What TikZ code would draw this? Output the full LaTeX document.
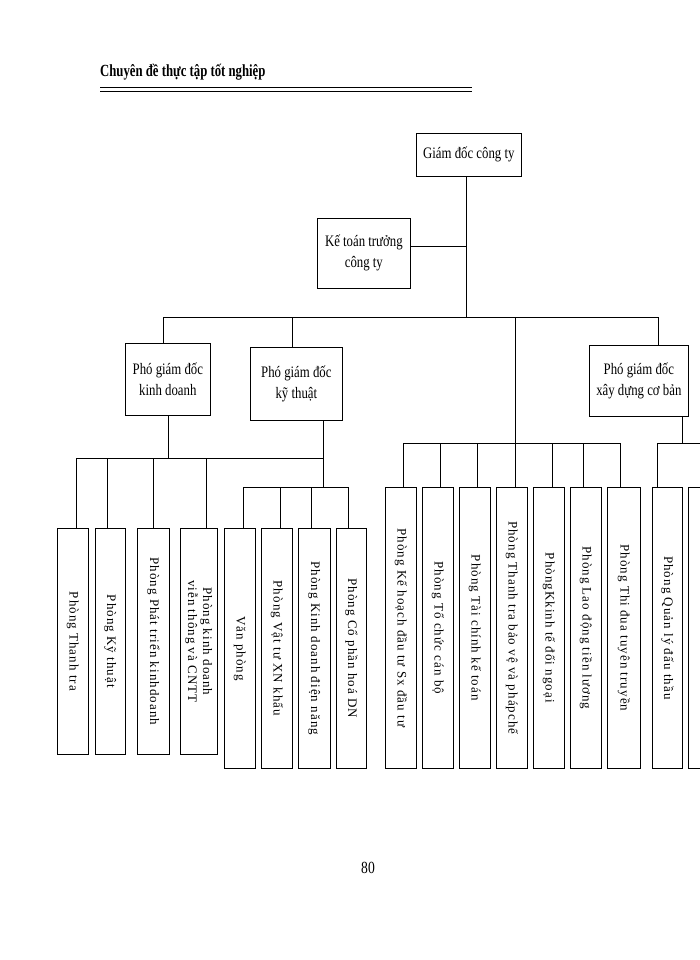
\documentclass[tikz,border=0pt]{standalone}
\usepackage{fontspec}
\setmainfont{Liberation Serif}
\newfontfamily\vfont[LetterSpace=8]{Liberation Serif}
\newfontfamily\cfont[FakeStretch=0.8]{Liberation Serif}
\newfontfamily\hfont[FakeStretch=0.75]{Liberation Serif}
\begin{document}
\begin{tikzpicture}[x=1pt,y=-1pt,
  box/.style={draw,line width=0.7pt,anchor=north west,inner sep=0pt,align=center,font=\cfont\fontsize{16}{21}\selectfont},
  vbox/.style={draw,line width=0.7pt,anchor=north west,inner sep=0pt},
  vt/.style={rotate=-90,align=center,font=\vfont\fontsize{13}{15}\selectfont},
  ln/.style={line width=0.7pt}]
\useasboundingbox (0,0) rectangle (700,960);
\node[anchor=west,inner sep=0pt,font=\hfont\bfseries\fontsize{17}{20}\selectfont] (hdr) at (100,72) {Chuyên đề thực tập tốt nghiệp};
\draw[line width=1pt] (100,88) -- (472,88);
\draw[line width=0.6pt] (100,91.5) -- (472,91.5);
\node[font=\cfont\fontsize{17}{18}\selectfont] (pg) at (368,868) {80};
% top boxes
\node[box,minimum width=105,minimum height=43] (gd) at (416,133) {Giám đốc công ty};
\node[box,minimum width=93,minimum height=70] (kt) at (317,218) {Kế toán trưởng\\công ty};
\node[box,minimum width=85,minimum height=72] (kd) at (125,343) {Phó giám đốc\\kinh doanh};
\node[box,minimum width=92,minimum height=73] (ky) at (250,347) {Phó giám đốc\\kỹ thuật};
\node[box,minimum width=99,minimum height=71] (xd) at (589,345) {Phó giám đốc\\xây dựng cơ bản};
% connectors top
\coordinate (j1) at (466,246);
\coordinate (j2) at (466,317);
\draw[ln] (gd.south -| j1) -- (j2);
\draw[ln] (kt.east |- j1) -- (j1);
\draw[ln] (163,343) -- (163,317) -- (658,317) -- (658,345);
\draw[ln] (292,317) -- (292,347);
% vertical boxes
\newcommand{\vb}[5]{\node[vbox,minimum width=#3,minimum height=#4] (#1) at (#2) {}; \node[vt] at (#1.center) {#5};}
\vb{a1}{57,528}{31}{226}{Phòng Thanh tra}
\vb{a2}{95,528}{30}{226}{Phòng Kỹ thuật}
\vb{a3}{137,528}{32}{226}{Phòng Phát triển kinhdoanh}
\vb{a4}{180,528}{37}{226}{Phòng kinh doanh\\viễn thông và CNTT}
\vb{b1}{224,528}{31}{240}{Văn phòng}
\vb{b2}{261,528}{31}{240}{Phòng Vật tư XN khẩu}
\vb{b3}{298,528}{32}{240}{Phòng Kinh doanh điện năng}
\vb{b4}{336,528}{30}{240}{Phòng Cổ phần hoá DN}
\vb{c1}{385,487}{31}{281}{Phòng Kế hoạch đầu tư Sx đầu tư}
\vb{c2}{422,487}{31}{281}{Phòng Tổ chức cán bộ}
\vb{c3}{459,487}{31}{281}{Phòng Tài chính kế toán}
\vb{c4}{496,487}{31}{281}{Phòng Thanh tra bảo vệ và phápchế}
\vb{c5}{533,487}{31}{281}{PhòngKkinh tế đối ngoại}
\vb{c6}{570,487}{31}{281}{Phòng Lao động tiền lương}
\vb{c7}{607,487}{33}{281}{Phòng Thi đua tuyên truyền}
\vb{d1}{652,487}{30}{281}{Phòng Quản lý đấu thầu}
\draw[line width=0.7pt] (700,487) -- (688,487) -- (688,768) -- (700,768);
% group connectors
\draw[ln] (168,415) -- (168,458);
\draw[ln] (76,528) -- (76,458) -- (323,458);
\foreach \x in {107,153,206} \draw[ln] (\x,458) -- (\x,528);
\draw[ln] (323,420) -- (323,487);
\draw[ln] (243,528) -- (243,487) -- (348,487) -- (348,528);
\foreach \x in {280,311} \draw[ln] (\x,487) -- (\x,528);
\draw[ln] (515,317) -- (515,487);
\draw[ln] (403,487) -- (403,443) -- (620,443) -- (620,487);
\foreach \x in {440,477,552,583} \draw[ln] (\x,443) -- (\x,487);
\draw[ln] (682,416) -- (682,443);
\draw[ln] (657,487) -- (657,443) -- (700,443);
\end{tikzpicture}
\end{document}
